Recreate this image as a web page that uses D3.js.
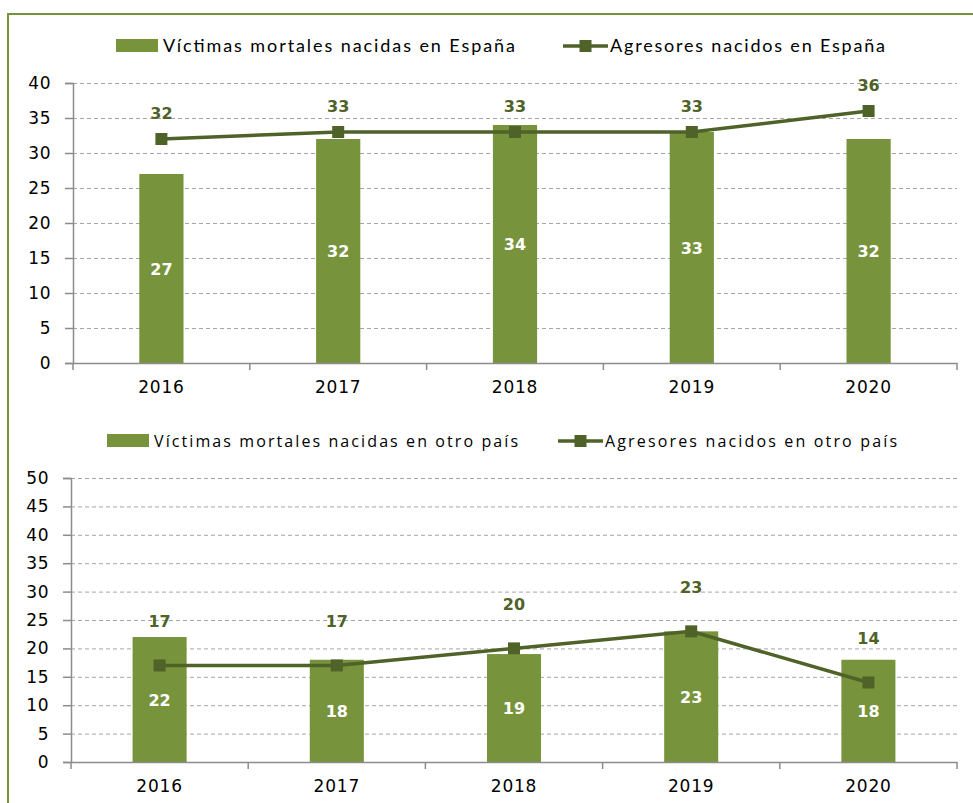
<!DOCTYPE html>
<html>
<head>
<meta charset="utf-8">
<script src="https://cdn.jsdelivr.net/npm/d3@7"></script>
<style>
  body { margin: 0; background: #fff; }
  svg { display: block; }
</style>
</head>
<body>
<div id="chart"></div>
<script>
// data
const years = ["2016", "2017", "2018", "2019", "2020"];
const victimsSpain = [27, 32, 34, 33, 32];
const aggressorsSpain = [32, 33, 33, 33, 36];
const victimsAbroad = [22, 18, 19, 23, 18];
const aggressorsAbroad = [17, 17, 20, 23, 14];
const ticksTop = [0, 5, 10, 15, 20, 25, 30, 35, 40];
const ticksBottom = [0, 5, 10, 15, 20, 25, 30, 35, 40, 45, 50];
const legendTop = ["Víctimas mortales nacidas en España", "Agresores nacidos en España"];
const legendBottom = ["Víctimas mortales nacidas en otro país", "Agresores nacidos en otro país"];

const barColor = "#77933c";
const lineColor = "#4f6228";
const axisColor = "#8c8c8c";
const gridColor = "#a6a6a6";
const numFont = "'DejaVu Sans', Verdana, sans-serif";

const svg = d3.select("#chart").append("svg")
  .attr("width", 973)
  .attr("height", 803);

// green frame
svg.append("path")
  .attr("d", "M8,803 L8,14 L973,14")
  .attr("fill", "none")
  .attr("stroke", barColor)
  .attr("stroke-width", 2);

function drawChart(opt) {
  let g = svg.append("g");
  let x = d3.scaleBand().domain(years).range([opt.x0, opt.x1]);
  let xBar = d3.scaleBand().domain(years).range([opt.x0, opt.x1])
    .paddingInner(opt.pad).paddingOuter(opt.pad / 2);
  let y = d3.scaleLinear().domain([0, d3.max(opt.ticks)]).range([opt.yBottom, opt.yTop]);

  // grid
  g.append("g").selectAll("line")
    .data(opt.ticks.filter(d => d > 0))
    .enter().append("line")
    .attr("x1", opt.x0).attr("x2", opt.x1)
    .attr("y1", d => y(d) + 0.5).attr("y2", d => y(d) + 0.5)
    .attr("stroke", gridColor)
    .attr("stroke-dasharray", "4,3");

  // y axis
  let yAxis = g.append("g")
    .attr("transform", "translate(" + opt.x0 + ",0)")
    .call(d3.axisLeft(y).tickValues(opt.ticks).tickSize(8).tickPadding(14));
  yAxis.selectAll("path, line").attr("stroke", axisColor).attr("stroke-width", 1.5);
  yAxis.selectAll("text")
    .attr("font-family", numFont).attr("font-size", 17)
    .attr("letter-spacing", 0.5).attr("fill", "#000");

  // bars
  g.selectAll("rect.bar")
    .data(opt.bars)
    .enter().append("rect")
    .attr("class", "bar")
    .attr("x", (d, i) => xBar(years[i]))
    .attr("width", xBar.bandwidth())
    .attr("y", d => y(d))
    .attr("height", d => opt.yBottom - y(d))
    .attr("fill", barColor);

  // x axis
  let xAxis = g.append("g")
    .attr("transform", "translate(0," + opt.yBottom + ")")
    .call(d3.axisBottom(x).tickSize(0).tickPadding(18));
  xAxis.select(".domain").attr("stroke", axisColor).attr("stroke-width", 1.5);
  xAxis.selectAll("text")
    .attr("font-family", numFont).attr("font-size", 17)
    .attr("letter-spacing", 0.8).attr("fill", "#000");
  let edges = years.map(d => x(d)).concat([opt.x1]);
  xAxis.selectAll("line.edge")
    .data(edges)
    .enter().append("line")
    .attr("class", "edge")
    .attr("x1", d => d).attr("x2", d => d)
    .attr("y1", 0).attr("y2", 7)
    .attr("stroke", axisColor).attr("stroke-width", 1.5);

  // bar labels
  g.selectAll("text.barlab")
    .data(opt.bars)
    .enter().append("text")
    .attr("class", "barlab")
    .attr("x", (d, i) => x(years[i]) + x.bandwidth() / 2)
    .attr("y", d => (y(d) + opt.yBottom) / 2 + 6)
    .attr("text-anchor", "middle")
    .attr("font-family", numFont).attr("font-weight", "bold").attr("font-size", 16)
    .attr("fill", "#fff")
    .text(d => d);

  // line
  let valueline = d3.line()
    .x((d, i) => x(years[i]) + x.bandwidth() / 2)
    .y(d => y(d));
  g.append("path")
    .datum(opt.line)
    .attr("d", valueline)
    .attr("fill", "none")
    .attr("stroke", lineColor)
    .attr("stroke-width", 3.5);
  g.selectAll("rect.point")
    .data(opt.line)
    .enter().append("rect")
    .attr("class", "point")
    .attr("x", (d, i) => x(years[i]) + x.bandwidth() / 2 - 6)
    .attr("y", d => y(d) - 6)
    .attr("width", 12).attr("height", 12)
    .attr("fill", lineColor);
  g.selectAll("text.linelab")
    .data(opt.line)
    .enter().append("text")
    .attr("class", "linelab")
    .attr("x", (d, i) => x(years[i]) + x.bandwidth() / 2)
    .attr("y", d => y(d) - opt.labOff)
    .attr("text-anchor", "middle")
    .attr("font-family", numFont).attr("font-weight", "bold").attr("font-size", 16)
    .attr("fill", lineColor)
    .text(d => d);

  // legend
  let lg = g.append("g").attr("transform", "translate(0," + opt.legY + ")");
  lg.append("rect")
    .attr("x", opt.leg[0]).attr("y", -7)
    .attr("width", 42).attr("height", 13)
    .attr("fill", barColor);
  lg.append("text")
    .attr("x", opt.leg[0] + 47).attr("y", 6)
    .attr("font-family", opt.legFont).attr("font-size", opt.legSize)
    .attr("textLength", opt.legW[0]).attr("lengthAdjust", "spacing")
    .text(opt.names[0]);
  lg.append("line")
    .attr("x1", opt.leg[1]).attr("x2", opt.leg[1] + 45)
    .attr("y1", 0).attr("y2", 0)
    .attr("stroke", lineColor).attr("stroke-width", 3.5);
  lg.append("rect")
    .attr("x", opt.leg[1] + 22.5 - 6).attr("y", -6)
    .attr("width", 12).attr("height", 12)
    .attr("fill", lineColor);
  lg.append("text")
    .attr("x", opt.leg[1] + 47).attr("y", 6)
    .attr("font-family", opt.legFont).attr("font-size", opt.legSize)
    .attr("textLength", opt.legW[1]).attr("lengthAdjust", "spacing")
    .text(opt.names[1]);
}

drawChart({
  bars: victimsSpain, line: aggressorsSpain, ticks: ticksTop, names: legendTop,
  x0: 73, x1: 957, yTop: 83, yBottom: 363, pad: 0.75, labOff: 20,
  legY: 46, leg: [116, 563], legW: [352, 275],
  legFont: "Lato, 'Open Sans', sans-serif", legSize: 18
});

drawChart({
  bars: victimsAbroad, line: aggressorsAbroad, ticks: ticksBottom, names: legendBottom,
  x0: 71, x1: 957, yTop: 478, yBottom: 762, pad: 0.695, labOff: 38,
  legY: 441, leg: [107, 558], legW: [364, 292],
  legFont: "'Open Sans', Lato, sans-serif", legSize: 16
});
</script>
</body>
</html>
